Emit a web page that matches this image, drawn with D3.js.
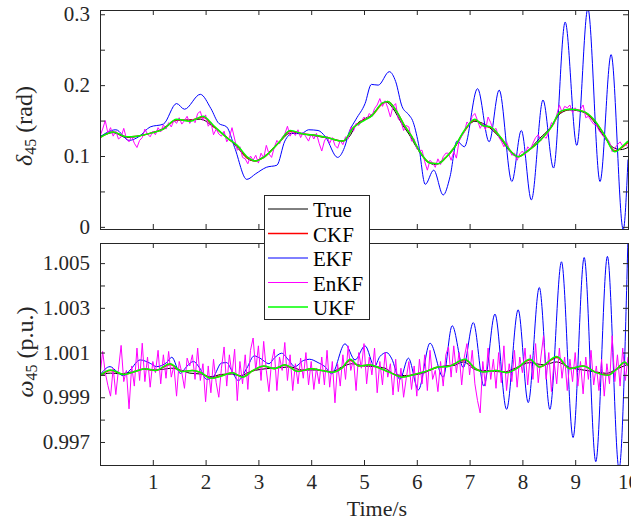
<!DOCTYPE html>
<html>
<head>
<meta charset="utf-8">
<script src="https://cdn.jsdelivr.net/npm/d3@7"></script>
<style>
  body { margin: 0; background: #fff; }
  svg { display: block; }
</style>
</head>
<body>
<div id="chart"></div>
<script>
// ---- data ----
var seriesNames = ["True", "CKF", "EKF", "EnKF", "UKF"];
var seriesColors = ["#000000", "#ff0000", "#0000ff", "#ff00ff", "#00ff00"];
var seriesWidths = [1, 1.5, 1, 1, 1.5];

var xTicks = [1, 2, 3, 4, 5, 6, 7, 8, 9, 10];
var xTickLabels = ["1", "2", "3", "4", "5", "6", "7", "8", "9", "10"];
var deltaTicks = [0, 0.05, 0.1, 0.15, 0.2, 0.25, 0.3];
var deltaTickLabels = ["0", "", "0.1", "", "0.2", "", "0.3"];
var omegaTicks = [0.997, 0.998, 0.999, 1.000, 1.001, 1.002, 1.003, 1.004, 1.005];
var omegaTickLabels = ["0.997", "", "0.999", "", "1.001", "", "1.003", "", "1.005"];

// delta_45 (rad), [time, value]
var trueDelta = [[0,.127],[0.25,.133],[0.5,.126],[0.65,.127],[0.9,.131],[1.15,.137],[1.45,.150],[1.7,.151],[1.9,.152],[2.15,.141],[2.4,.127],[2.6,.112],[2.8,.096],[2.92,.093],[3.1,.099],[3.4,.120],[3.6,.132],[3.85,.131],[4.1,.128],[4.35,.125],[4.58,.121],[4.72,.127],[4.85,.144],[5.0,.152],[5.15,.158],[5.33,.173],[5.42,.176],[5.55,.167],[5.72,.145],[5.85,.131],[6.03,.108],[6.22,.091],[6.35,.088],[6.53,.097],[6.7,.110],[6.88,.133],[7.1,.149],[7.3,.144],[7.58,.125],[7.77,.106],[7.9,.099],[8.08,.106],[8.33,.125],[8.52,.139],[8.72,.160],[8.9,.165],[9.15,.162],[9.34,.150],[9.53,.129],[9.72,.112],[9.86,.109],[10,.112]];
var ckfDelta = [[0,.126],[0.25,.134],[0.5,.127],[0.7,.128],[1.0,.133],[1.2,.138],[1.45,.151],[1.7,.150],[1.95,.155],[2.15,.142],[2.4,.126],[2.6,.114],[2.8,.097],[2.95,.093],[3.1,.098],[3.4,.120],[3.6,.135],[3.85,.131],[4.1,.129],[4.35,.125],[4.6,.121],[4.8,.140],[5.0,.151],[5.15,.157],[5.35,.174],[5.45,.177],[5.6,.165],[5.75,.145],[5.9,.128],[6.05,.107],[6.25,.090],[6.4,.089],[6.55,.098],[6.7,.111],[6.9,.135],[7.1,.151],[7.25,.143],[7.4,.140],[7.6,.125],[7.8,.105],[7.92,.099],[8.1,.107],[8.35,.123],[8.55,.141],[8.72,.162],[8.9,.166],[9.15,.163],[9.35,.151],[9.55,.130],[9.75,.107],[9.9,.113],[10,.119]];
var ekfDelta = [[0,.127],[0.3,.137],[0.55,.122],[0.75,.128],[0.95,.141],[1.2,.145],[1.45,.174],[1.6,.166],[1.9,.187],[2.1,.167],[2.25,.146],[2.4,.141],[2.55,.112],[2.78,.067],[2.95,.075],[3.15,.084],[3.35,.087],[3.5,.121],[3.65,.132],[3.82,.132],[3.95,.137],[4.13,.136],[4.27,.127],[4.5,.098],[4.63,.112],[4.72,.134],[4.85,.152],[5.02,.174],[5.14,.201],[5.27,.200],[5.48,.219],[5.6,.205],[5.72,.170],[5.85,.158],[5.92,.150],[6.03,.118],[6.16,.060],[6.32,.080],[6.5,.045],[6.63,.071],[6.76,.121],[6.9,.113],[7.15,.195],[7.37,.120],[7.56,.193],[7.8,.064],[7.98,.136],[8.17,.038],[8.39,.179],[8.59,.083],[8.81,.289],[9.03,.115],[9.24,.308],[9.47,.064],[9.68,.243],[9.91,-.004],[10,.095]];
var ukfDelta = [[0,.126],[0.25,.134],[0.5,.127],[0.7,.128],[1.0,.133],[1.2,.138],[1.45,.152],[1.7,.149],[1.95,.156],[2.15,.143],[2.4,.126],[2.6,.115],[2.8,.098],[2.95,.093],[3.1,.098],[3.4,.120],[3.6,.136],[3.85,.131],[4.1,.129],[4.35,.125],[4.6,.121],[4.8,.140],[5.0,.150],[5.15,.157],[5.35,.175],[5.45,.177],[5.6,.165],[5.75,.145],[5.9,.128],[6.05,.107],[6.25,.090],[6.4,.089],[6.55,.098],[6.7,.111],[6.9,.136],[7.1,.152],[7.25,.143],[7.4,.141],[7.6,.125],[7.8,.105],[7.92,.099],[8.1,.107],[8.35,.123],[8.55,.141],[8.72,.163],[8.9,.166],[9.15,.163],[9.35,.152],[9.55,.130],[9.75,.106],[9.9,.114],[10,.121]];
// EnKF sampled every 0.05 s
var enkfStep = 0.05;
var enkfDelta = [
  .128,.138,.150,.132,.140,.128,.135,.124,.127,.139,.125,.120,.128,.118,.112,.122,.126,.138,.131,.127,
  .135,.130,.140,.134,.144,.138,.147,.141,.150,.146,.154,.145,.150,.156,.146,.152,.147,.160,.163,.150,
  .158,.142,.148,.130,.138,.131,.128,.135,.120,.126,.140,.124,.108,.113,.098,.096,.089,.100,.094,.101,
  .090,.104,.097,.115,.103,.098,.112,.122,.117,.126,.131,.142,.128,.135,.129,.137,.126,.133,.127,.121,
  .131,.124,.132,.118,.107,.121,.128,.118,.126,.115,.111,.122,.116,.127,.124,.141,.135,.146,.143,.149,
  .155,.151,.160,.156,.167,.172,.181,.170,.178,.168,.155,.170,.174,.152,.149,.136,.143,.141,.121,.124,
  .110,.108,.108,.092,.080,.094,.090,.084,.096,.088,.099,.104,.104,.094,.106,.097,.121,.128,.134,.148,
  .144,.156,.160,.150,.139,.146,.137,.155,.147,.136,.139,.127,.121,.113,.120,.110,.101,.104,.094,.103,
  .107,.101,.113,.109,.118,.126,.130,.122,.128,.125,.134,.147,.145,.158,.172,.162,.170,.168,.172,.161,
  .168,.163,.166,.172,.154,.156,.150,.145,.144,.136,.131,.126,.125,.120,.106,.111,.116,.120,.114,.117,
  .113];

// omega_45 (p.u.), [time, value]
var trueOmega = [[0,1.0000],[0.2,1.00008],[0.38,1.00005],[0.63,1.00015],[0.82,1.00025],[1.0,1.00022],[1.2,1.00025],[1.35,1.0003],[1.52,1.00022],[1.7,1.00008],[1.9,1.00004],[2.1,0.99992],[2.3,1.00002],[2.5,1.00004],[2.65,0.99996],[2.85,1.00015],[3.05,1.00025],[3.25,1.0003],[3.45,1.00033],[3.6,1.00036],[3.82,1.00022],[4.07,1.00022],[4.39,1.00015],[4.58,1.00035],[4.77,1.0005],[5.0,1.0004],[5.2,1.00037],[5.4,1.0003],[5.58,1.00002],[5.77,0.99997],[5.96,1.0],[6.15,1.0001],[6.34,1.0003],[6.53,1.0004],[6.7,1.00042],[6.88,1.00058],[7.13,1.00022],[7.39,1.00018],[7.64,1.00013],[7.89,1.00033],[8.14,1.00055],[8.4,1.00045],[8.65,1.00058],[8.9,1.00033],[9.15,1.00022],[9.4,1.00013],[9.59,1.00007],[9.78,1.00025],[10,1.00048]];
var ckfOmega = [[0,0.99999],[0.2,1.0002],[0.45,1.00003],[0.65,1.00014],[0.85,1.00027],[1.05,1.0002],[1.33,1.00047],[1.55,1.00016],[1.75,1.0002],[1.9,1.00011],[2.1,0.99986],[2.3,0.99996],[2.5,1.0001],[2.7,0.99991],[2.9,1.0002],[3.1,1.00039],[3.3,1.00028],[3.5,1.00044],[3.75,1.00016],[4.0,1.00027],[4.2,1.0002],[4.4,1.00013],[4.58,1.0003],[4.74,1.00066],[4.9,1.0004],[5.1,1.00044],[5.3,1.0003],[5.5,1.0001],[5.72,0.99991],[5.95,1.00002],[6.2,1.00018],[6.4,1.00035],[6.6,1.00039],[6.91,1.00067],[7.1,1.0003],[7.26,1.00014],[7.5,1.0002],[7.7,1.00011],[7.9,1.0003],[8.14,1.00067],[8.33,1.00036],[8.65,1.00078],[8.9,1.00029],[9.15,1.0004],[9.4,1.00011],[9.62,1.0],[9.78,1.00025],[9.94,1.00055],[10,1.00042]];
var ekfOmega = [[0,1.0],[0.19,1.00037],[0.32,1.00015],[0.44,0.99996],[0.57,1.00022],[0.76,1.00067],[0.95,1.00052],[1.07,1.00037],[1.26,1.00055],[1.36,1.00079],[1.52,1.00007],[1.64,1.00037],[1.77,1.0006],[1.89,1.0003],[2.02,0.9998],[2.15,0.99993],[2.3,1.00053],[2.4,1.00055],[2.49,1.00022],[2.62,0.99975],[2.78,1.0003],[2.92,1.00085],[3.03,1.00075],[3.2,1.0005],[3.3,1.00075],[3.44,1.00097],[3.57,1.00067],[3.69,1.00037],[3.85,1.00064],[3.97,1.0007],[4.13,1.00055],[4.26,1.00037],[4.39,1.00005],[4.64,1.00139],[4.83,1.00067],[5.02,1.0013],[5.2,1.00037],[5.3,1.00082],[5.43,1.001],[5.52,1.00075],[5.68,0.9998],[5.84,1.00075],[6.03,0.99933],[6.25,1.00142],[6.5,0.9999],[6.67,1.0022],[6.88,1.00033],[7.07,1.00234],[7.27,0.9995],[7.48,1.00272],[7.7,0.99846],[7.92,1.00291],[8.11,0.99876],[8.32,1.00391],[8.52,0.99846],[8.74,1.00506],[8.96,0.9972],[9.17,1.00525],[9.39,0.99612],[9.61,1.0053],[9.83,0.9958],[10,1.0062]];
var ukfOmega = [[0,0.99998],[0.2,1.00022],[0.45,1.00002],[0.65,1.00014],[0.85,1.00028],[1.05,1.0002],[1.33,1.0005],[1.55,1.00015],[1.75,1.0002],[1.9,1.00012],[2.1,0.99985],[2.3,0.99995],[2.5,1.0001],[2.7,0.9999],[2.9,1.0002],[3.1,1.0004],[3.3,1.00028],[3.5,1.00045],[3.75,1.00015],[4.0,1.00028],[4.2,1.0002],[4.4,1.00012],[4.58,1.0003],[4.74,1.0007],[4.9,1.0004],[5.1,1.00045],[5.3,1.0003],[5.5,1.0001],[5.72,0.9999],[5.95,1.00002],[6.2,1.00018],[6.4,1.00035],[6.6,1.00038],[6.91,1.0007],[7.1,1.0003],[7.26,1.00013],[7.5,1.0002],[7.7,1.0001],[7.9,1.0003],[8.14,1.0007],[8.33,1.00035],[8.65,1.00082],[8.9,1.00028],[9.15,1.0004],[9.4,1.0001],[9.62,0.99998],[9.78,1.00025],[9.94,1.00058],[10,1.00042]];
var enkfOmega = [
  0.99995,1.00105,1.0001,0.99952,0.99905,1.0003,0.99912,1.00025,1.00132,0.9997,1.0002,0.99848,1.0004,0.9995,1.0012,0.99975,1.00142,0.9997,1.0008,0.99945,
  1.0006,1.0001,1.0011,0.9996,1.0009,0.99985,1.00105,0.9999,1.0004,0.99905,1.0006,1.0001,0.9994,1.00075,1.0004,1.0009,0.9998,1.0012,0.99975,1.0005,
  0.9988,1.0004,0.9992,1.0007,0.99965,0.9990,1.0003,1.00125,0.9995,1.0009,1.0000,1.00115,0.99885,1.0006,0.9996,1.0009,0.99935,1.0011,1.00165,1.0002,
  1.0013,0.99975,1.0015,1.0002,0.99925,1.0006,1.00115,0.9993,1.0008,1.0002,1.00145,0.99975,1.0009,0.9993,1.0005,0.9996,1.00075,0.99985,1.0010,0.99955,
  1.0006,0.99935,1.0003,0.9996,1.0008,0.99955,1.0011,0.99945,1.0006,0.99875,1.0005,0.9995,1.0009,0.9998,1.0013,1.0002,1.0007,0.9993,1.0010,1.0003,
  1.0014,0.9996,1.0008,1.0000,1.0012,0.9992,1.0006,0.99955,1.0010,0.9999,1.0005,0.9991,1.0007,0.99925,1.0003,0.9990,0.99985,1.0006,0.99935,1.0004,
  0.99905,1.0007,0.9996,1.0009,0.9993,1.0011,0.9998,1.0002,0.99925,1.0006,0.9995,1.0009,1.00125,0.9999,1.0013,1.0001,1.0010,0.99955,1.0008,1.0014,
  1.0000,1.0011,0.9996,0.99885,0.9983,1.0006,0.9995,1.0012,0.9998,1.0007,0.9994,1.0010,0.99965,1.0013,0.9993,1.0005,0.9997,1.0011,0.99945,1.0008,
  1.0001,1.0012,0.99955,1.0009,0.9998,1.0014,0.99965,1.0008,1.00175,0.9998,1.0010,0.99925,1.0006,0.9996,1.0012,0.99985,1.0008,0.9993,1.0007,0.9997,
  1.0010,0.9995,1.0006,0.99915,1.0008,0.9998,1.0011,0.99955,1.0004,0.9993,1.0007,0.99905,1.0005,0.9996,1.00175,0.9997,1.0009,0.9995,1.0012,0.99975,
  1.0008];

// ---- layout ----
var W = 631, H = 523;
var svg = d3.select("#chart").append("svg")
  .attr("width", W)
  .attr("height", H)
  .style("background", "#fff");

var x = d3.scaleLinear().domain([0, 10]).range([100, 628]);
var yTop = d3.scaleLinear().domain([-0.003, 0.306]).range([229, 10]);
var yBot = d3.scaleLinear().domain([0.99597, 1.0059]).range([465, 243]);

var axisColor = "#262626";
var font = "'Liberation Serif', 'Times New Roman', serif";

function withTimes(vals) {
  return vals.map(function(v, i) { return [i * enkfStep, v]; });
}

function drawPanel(name, y, series, yTicks, yLabels, showX) {
  var x0 = x.range()[0], x1 = x.range()[1];
  var yb = y.range()[0], yt = y.range()[1];

  svg.append("clipPath").attr("id", "clip-" + name)
    .append("rect")
      .attr("x", x0).attr("y", yt)
      .attr("width", x1 - x0).attr("height", yb - yt);

  var plot = svg.append("g").attr("clip-path", "url(#clip-" + name + ")");
  series.forEach(function(s, i) {
    var line = d3.line()
      .x(function(d) { return x(d[0]); })
      .y(function(d) { return y(d[1]); })
      .curve(s.smooth ? d3.curveMonotoneX : d3.curveLinear);
    plot.append("path")
      .datum(s.data)
      .attr("fill", "none")
      .attr("stroke", seriesColors[i])
      .attr("stroke-width", seriesWidths[i])
      .attr("stroke-linejoin", "round")
      .attr("d", line);
  });

  // ticks on all four sides, pointing inward
  var left = svg.append("g")
    .attr("transform", "translate(" + x0 + ",0)")
    .call(d3.axisLeft(y).tickValues(yTicks).tickSize(-5).tickPadding(10)
      .tickFormat(function(d, i) { return yLabels[i]; }));
  var right = svg.append("g")
    .attr("transform", "translate(" + x1 + ",0)")
    .call(d3.axisRight(y).tickValues(yTicks).tickSize(-5).tickFormat(""));
  var bottom = svg.append("g")
    .attr("transform", "translate(0," + yb + ")")
    .call(d3.axisBottom(x).tickValues(xTicks).tickSize(-5).tickPadding(9)
      .tickFormat(function(d, i) { return showX ? xTickLabels[i] : ""; }));
  var top = svg.append("g")
    .attr("transform", "translate(0," + yt + ")")
    .call(d3.axisTop(x).tickValues(xTicks).tickSize(-5).tickFormat(""));

  [left, right, bottom, top].forEach(function(a) {
    a.attr("font-family", font).attr("font-size", 21);
    a.select(".domain").remove();
    a.selectAll("line").attr("stroke", axisColor);
    a.selectAll("text").attr("fill", axisColor);
  });

  svg.append("rect")
    .attr("x", x0 + 0.5).attr("y", yt + 0.5)
    .attr("width", x1 - x0).attr("height", yb - yt)
    .attr("fill", "none")
    .attr("stroke", axisColor)
    .attr("stroke-width", 1);
}

drawPanel("top", yTop, [
  {data: trueDelta, smooth: true},
  {data: ckfDelta, smooth: true},
  {data: ekfDelta, smooth: true},
  {data: withTimes(enkfDelta), smooth: false},
  {data: ukfDelta, smooth: true}
], deltaTicks, deltaTickLabels, false);

drawPanel("bot", yBot, [
  {data: trueOmega, smooth: true},
  {data: ckfOmega, smooth: true},
  {data: ekfOmega, smooth: true},
  {data: withTimes(enkfOmega), smooth: false},
  {data: ukfOmega, smooth: true}
], omegaTicks, omegaTickLabels, true);

// y axis labels
function yLabel(cx, cy, sym, rest) {
  var t = svg.append("text")
    .attr("transform", "translate(" + cx + "," + cy + ") rotate(-90)")
    .attr("text-anchor", "middle")
    .attr("fill", axisColor)
    .attr("font-family", font)
    .attr("font-size", 24);
  t.append("tspan").attr("font-style", "italic").text(sym);
  t.append("tspan").attr("dy", 4).attr("font-size", 16).text("45");
  t.append("tspan").attr("dy", -4).text(" " + rest);
}
yLabel(32, 126, "\u03b4", "(rad)");
yLabel(33, 352, "\u03c9", "(p.u.)");

svg.append("text")
  .attr("x", 377)
  .attr("y", 516)
  .attr("text-anchor", "middle")
  .attr("fill", axisColor)
  .attr("font-family", font)
  .attr("font-size", 22)
  .text("Time/s");

// legend
var leg = svg.append("g");
leg.append("rect")
  .attr("x", 264.5).attr("y", 195.5)
  .attr("width", 105).attr("height", 124)
  .attr("fill", "#fff")
  .attr("stroke", axisColor)
  .attr("stroke-width", 1);
seriesNames.forEach(function(n, i) {
  var ly = 209 + i * 24.5;
  leg.append("line")
    .attr("x1", 268).attr("x2", 308)
    .attr("y1", ly).attr("y2", ly)
    .attr("stroke", seriesColors[i])
    .attr("stroke-width", seriesWidths[i]);
  leg.append("text")
    .attr("x", 313)
    .attr("y", ly + 8)
    .attr("fill", "#000")
    .attr("font-family", font)
    .attr("font-size", 21)
    .text(n);
});
</script>
</body>
</html>
